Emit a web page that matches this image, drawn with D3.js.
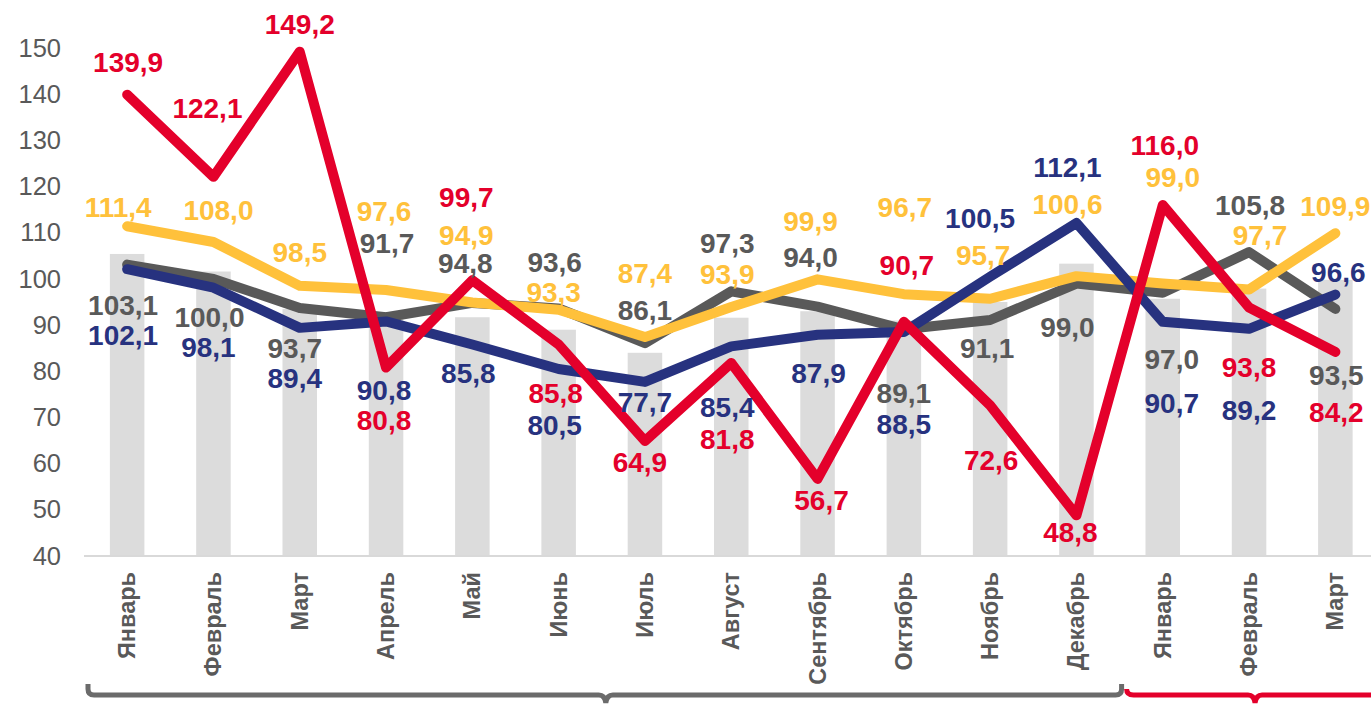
<!DOCTYPE html>
<html>
<head>
<meta charset="utf-8">
<script src="https://cdn.jsdelivr.net/npm/d3@7"></script>
<style>
  body { margin: 0; background: #fff; }
  svg { display: block; font-family: "Liberation Sans", Arial, sans-serif; }
</style>
</head>
<body>
<div id="chart"></div>
<script>
// categories (two years: Jan-Dec, then Jan-Mar)
const months = ["Январь", "Февраль", "Март", "Апрель", "Май", "Июнь", "Июль", "Август",
                "Сентябрь", "Октябрь", "Ноябрь", "Декабрь", "Январь", "Февраль", "Март"];

// series values
const barValues   = [105.4, 101.6, 93.5, 92.5, 91.7, 89.0, 84.0, 91.6, 93.0, 91.0, 95.0, 103.3, 95.7, 97.9, 99.8];
const redValues   = [139.9, 122.1, 149.2, 80.8, 99.7, 85.8, 64.9, 81.8, 56.7, 90.7, 72.6, 48.8, 116.0, 93.8, 84.2];
const yellowValues= [111.4, 108.0, 98.5, 97.6, 94.9, 93.3, 87.4, 93.9, 99.9, 96.7, 95.7, 100.6, 99.0, 97.7, 109.9];
const grayValues  = [103.1, 100.0, 93.7, 91.7, 94.8, 93.6, 86.1, 97.3, 94.0, 89.1, 91.1, 99.0, 97.0, 105.8, 93.5];
const navyValues  = [102.1, 98.1, 89.4, 90.8, 85.8, 80.5, 77.7, 85.4, 87.9, 88.5, 100.5, 112.1, 90.7, 89.2, 96.6];

// y ticks
const yTicks = [40, 50, 60, 70, 80, 90, 100, 110, 120, 130, 140, 150];

// label placement (dx, dy from point to label centre), layout only
const redLabelPos    = [[1,-33],[-6,-69],[0,-28],[-2,52],[-6,-83],[-3,48],[-5,21],[-4,76],[4,21],[3,-57],[1,54],[-6,17],[2,-60],[0,59],[1,60]];
const yellowLabelPos = [[-9,-19],[5,-32],[0,-34],[-2,-79],[-6,-68],[-5,-18],[0,-64],[-4,-33],[-7,-58],[1,-87],[-7,-44],[-9,-72],[10,-107],[11,-55],[0,-27]];
const grayLabelPos   = [[-4,40],[-4,38],[-5,40],[1,-74],[-7,-40],[-4,-47],[0,-33],[-4,-48],[-7,-50],[0,64],[-3,28],[-9,43],[9,66],[1,-47],[1,66]];
const navyLabelPos   = [[-4,66],[-5,59],[-5,50],[-2,69],[-4,28],[-4,56],[0,20],[-4,61],[1,38],[0,92],[-10,-59],[-9,-56],[9,81],[0,81],[3,-23]];

const width = 1371, height = 704;
const RED = "#e4002b", YELLOW = "#ffc13b", GRAY = "#595959", NAVY = "#27327f";

const svg = d3.select("#chart").append("svg")
    .attr("width", width)
    .attr("height", height);

// scales
const idx = months.map((m, i) => i);
const x = d3.scalePoint().domain(idx).range([84, 1378.5]).padding(0.5);
const y = d3.scaleLinear().domain([40, 150]).range([556, 48]);
const barW = x.step() * 0.4;

// bars
svg.append("g")
    .selectAll("rect")
    .data(barValues)
    .enter()
    .append("rect")
    .attr("x", (d, i) => x(i) - barW / 2)
    .attr("width", barW)
    .attr("y", d => y(d))
    .attr("height", d => y(40) - y(d))
    .attr("fill", "#dcdcdc");

// baseline
svg.append("line")
    .attr("x1", 84).attr("x2", width)
    .attr("y1", y(40)).attr("y2", y(40))
    .attr("stroke", "#d9d9d9")
    .attr("stroke-width", 2);

// y axis
svg.append("g")
    .attr("transform", "translate(84,0)")
    .call(d3.axisLeft(y).tickValues(yTicks).tickSize(0).tickPadding(23))
    .call(g => g.select(".domain").remove())
    .selectAll("text")
    .attr("fill", "#595959")
    .style("font-size", "25.5px")
    .style("font-family", "'Liberation Sans', Arial, sans-serif");

// x labels, rotated
svg.append("g")
    .selectAll("text")
    .data(months)
    .enter()
    .append("text")
    .attr("transform", (d, i) => "translate(" + (x(i) + 8) + ",572) rotate(-90)")
    .attr("text-anchor", "end")
    .attr("fill", "#595959")
    .style("font-size", "23.5px")
    .style("font-weight", "bold")
    .text(d => d);

// lines (bottom to top)
const series = [
    {values: grayValues, color: GRAY, pos: grayLabelPos},
    {values: yellowValues, color: YELLOW, pos: yellowLabelPos},
    {values: navyValues, color: NAVY, pos: navyLabelPos},
    {values: redValues, color: RED, pos: redLabelPos}
];

const line = d3.line()
    .x((d, i) => x(i))
    .y(d => y(d));

series.forEach(s => {
    svg.append("path")
        .datum(s.values)
        .attr("d", line)
        .attr("fill", "none")
        .attr("stroke", s.color)
        .attr("stroke-width", 10)
        .attr("stroke-linejoin", "round")
        .attr("stroke-linecap", "round");
});

// data labels
const fmt = v => d3.format(".1f")(v).replace(".", ",");
series.forEach(s => {
    svg.append("g")
        .selectAll("text")
        .data(s.values)
        .enter()
        .append("text")
        .attr("x", (d, i) => x(i) + s.pos[i][0])
        .attr("y", (d, i) => y(d) + s.pos[i][1])
        .attr("dy", "0.36em")
        .attr("text-anchor", "middle")
        .attr("fill", s.color)
        .style("font-size", "28px")
        .style("font-weight", "bold")
        .text(fmt);
});

// year braces
const braceY = 695;
const g0 = x(0) - x.step() / 2 + 4, g1 = x(11) + x.step() / 2 + 4, gm = (g0 + g1) / 2;
svg.append("path")
    .attr("d", `M${g0},684 V${braceY - 6} Q${g0},${braceY} ${g0 + 6},${braceY} H${gm - 7} Q${gm - 1},${braceY} ${gm},${braceY + 8} Q${gm + 1},${braceY} ${gm + 7},${braceY} H${g1 - 8} Q${g1 - 2},${braceY} ${g1 - 2},${braceY - 6} V684`)
    .attr("fill", "none")
    .attr("stroke", "#6b6b6b")
    .attr("stroke-width", 5);

const r0 = x(12) - x.step() / 2 + 7, rm = x(13) + 6;
svg.append("path")
    .attr("d", `M${r0},689 Q${r0},${braceY} ${r0 + 7},${braceY} H${rm - 7} Q${rm - 1},${braceY} ${rm},${braceY + 8} Q${rm + 1},${braceY} ${rm + 7},${braceY} H${width + 10}`)
    .attr("fill", "none")
    .attr("stroke", RED)
    .attr("stroke-width", 5);
</script>
</body>
</html>
